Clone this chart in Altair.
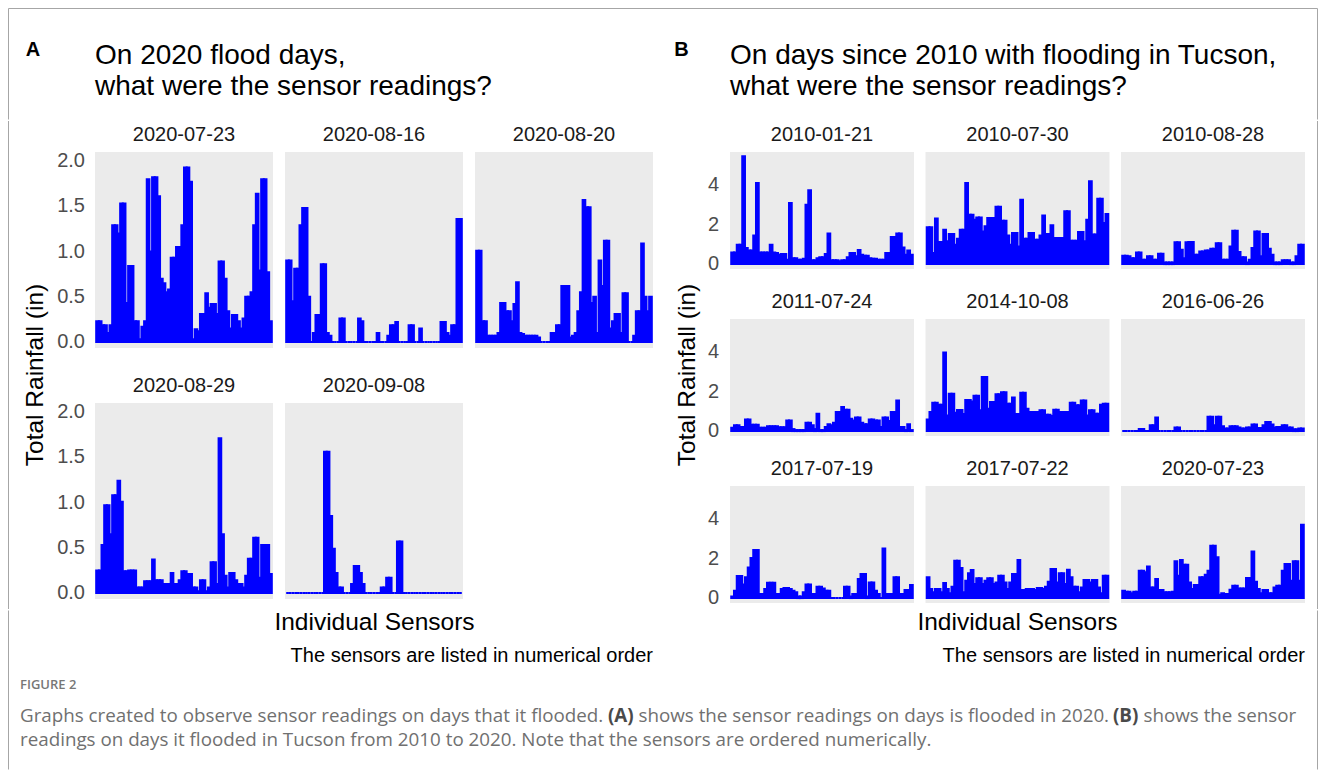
import altair as alt
import pandas as pd

FONT = "Liberation Sans"
CAPFONT = "Open Sans"
BLUE = "#0000FF"
PANEL = "#EBEBEB"
BORDER = "#A6A6A6"

# ---------------- data ----------------
SENSORS = [f"S{i:02d}" for i in range(1, 67)]

A_DATES = ["2020-07-23", "2020-08-16", "2020-08-20", "2020-08-29", "2020-09-08"]

A_0723 = [0.23, 0.23, 0.185, 0.185, 0.10, 0.185, 1.29, 1.29, 1.20, 1.53,
          1.53, 0.43, 0.84, 0.84, 0.23, 0.23, 0.03, 0.17, 0.23, 1.80,
          1.00, 1.82, 1.82, 1.61, 0.70, 0.65, 0.55, 0.58, 0.93, 0.93,
          1.05, 1.05, 1.29, 1.93, 1.93, 1.77, 0.03, 0.14, 0.12, 0.31,
          0.31, 0.54, 0.38, 0.42, 0.42, 0.31, 0.89, 0.89, 0.70, 0.34,
          0.15, 0.30, 0.30, 0.23, 0.15, 0.26, 0.50, 0.50, 0.55, 1.29,
          1.64, 0.79, 1.80, 1.80, 0.77, 0.23]
A_0816 = [0.90, 0.90, 0.45, 0.81, 0.81, 1.29, 1.48, 1.48, 0.50, 0,
          0.10, 0.30, 0.30, 0.86, 0.86, 0.10, 0.07, 0, 0, 0,
          0.26, 0.26, 0, 0, 0, 0, 0, 0.26, 0.23, 0,
          0, 0, 0, 0, 0.10, 0, 0, 0, 0.07, 0.185,
          0.185, 0.22, 0, 0, 0, 0, 0.185, 0.185, 0, 0,
          0.15, 0, 0, 0, 0, 0, 0, 0, 0.22, 0.22,
          0.10, 0.07, 0.185, 0.185, 1.36, 1.36]
A_0820 = [1.01, 1.01, 0.23, 0.23, 0.07, 0.07, 0.07, 0.07, 0.10, 0.43,
          0.43, 0.34, 0.34, 0.23, 0.42, 0.66, 0.10, 0.09, 0.07, 0.07,
          0.07, 0.07, 0.07, 0.05, 0, 0, 0, 0, 0.10, 0.10,
          0.185, 0.185, 0.62, 0.62, 0.62, 0.05, 0.07, 0.10, 0.34, 0.55,
          1.57, 1.49, 1.49, 0.43, 0.50, 0.10, 0.90, 0.62, 1.12, 1.12,
          0.15, 0.23, 0.31, 0.31, 0.10, 0.54, 0.54, 0, 0, 0.07,
          0.34, 0.34, 1.09, 0.50, 0.34, 0.50]
A_0829 = [0.25, 0.25, 0.53, 0.97, 0.97, 0.65, 1.08, 1.08, 1.24, 1.01,
          0.24, 0.24, 0.25, 0.25, 0.25, 0.06, 0.06, 0.06, 0.13, 0.13,
          0.13, 0.37, 0.14, 0.14, 0.14, 0.10, 0.10, 0.10, 0.22, 0.10,
          0.10, 0.14, 0.24, 0.24, 0.21, 0.21, 0.06, 0.06, 0.02, 0.14,
          0.14, 0.02, 0.06, 0.34, 0.34, 0.10, 1.71, 0.65, 0.19, 0.06,
          0.22, 0.22, 0.14, 0.10, 0.10, 0.06, 0.19, 0.38, 0.38, 0.61,
          0.61, 0.17, 0.53, 0.53, 0.53, 0.21]
A_0908 = [0, 0, 0, 0, 0, 0, 0, 0, 0, 0,
          0, 0, 0, 0, None, 1.56, 1.56, 0.85, 0.49, 0.22,
          0.06, 0.06, 0, 0, 0, 0.10, 0.30, 0.30, 0.22, 0.10,
          0, 0, 0, 0, 0, 0, 0.06, 0.06, 0.17, 0.17,
          0, 0, 0.57, 0.57, 0, 0, 0, 0, 0, 0,
          0, 0, 0, 0, 0, 0, 0, 0, 0, 0,
          0, 0, 0, 0, 0, 0]
A_RAIN = [A_0723, A_0816, A_0820, A_0829, A_0908]

B_DATES = ["2010-01-21", "2010-07-30", "2010-08-28",
           "2011-07-24", "2014-10-08", "2016-06-26",
           "2017-07-19", "2017-07-22", "2020-07-23"]

B_100121 = [0.59, 0.59, 0.98, 0.98, 5.45, 0.81, 0.68, 0.68, 1.45, 4.10,
            0.59, 0.59, 0.59, 0.59, 0.98, 0.59, 0.56, 0.47, 0.51, 0.51,
            0.22, 3.09, 0.30, 0.30, 0.22, 0.22, 0.27, 3.00, 3.73, 0.19,
            0.19, 0.30, 0.34, 0.34, 0.51, 1.54, 0.19, 0.19, 0.19, 0.14,
            0.19, 0.19, 0.34, 0.56, 0.56, 0.39, 0.71, 0.47, 0.42, 0.42,
            0.30, 0.27, 0.27, 0.22, 0.22, 0.22, 0.56, 0.56, 1.37, 1.37,
            1.54, 1.54, 0.84, 0.47, 0.68, 0.47]
B_100730 = [1.86, 1.86, 0.56, 2.30, 1.11, 1.11, 1.74, 1.15, 1.52, 1.52,
            0.98, 1.28, 1.74, 1.74, 4.10, 2.50, 2.50, 2.24, 2.36, 2.36,
            1.65, 1.91, 2.33, 2.33, 2.33, 2.90, 2.90, 2.19, 2.19, 1.45,
            0.98, 1.57, 1.57, 0.89, 3.26, 1.28, 1.28, 1.57, 1.57, 1.23,
            1.23, 1.45, 2.46, 1.52, 1.52, 1.96, 1.32, 1.32, 1.32, 1.32,
            2.67, 2.67, 1.18, 1.18, 1.18, 1.62, 1.62, 1.15, 2.24, 4.19,
            1.49, 1.49, 3.31, 3.31, 2.08, 2.53]
B_100828 = [0.42, 0.42, 0.39, 0.30, 0.30, 0.59, 0.59, 0.22, 0.22, 0.39,
            0.39, 0.22, 0.22, 0.52, 0.52, 0.08, 0.08, 0.08, 0.08, 1.10,
            1.10, 0.73, 0.30, 1.10, 1.11, 1.11, 0.47, 0.47, 0.64, 0.64,
            0.68, 0.68, 0.78, 0.78, 1.05, 1.05, 0.22, 0.22, 0.22, 0.89,
            1.69, 1.69, 0.61, 0.34, 0.34, 0.08, 0.22, 0.81, 1.65, 1.65,
            0.39, 1.52, 1.52, 0.78, 0.47, 0.08, 0.08, 0.08, 0.19, 0.19,
            0.19, 0.08, 0.08, 0.39, 0.98, 0.98]
B_110724 = [0.17, 0.29, 0.29, 0.20, 0.20, 0.59, 0.59, 0.32, 0.32, 0.32,
            0.17, 0.17, 0.17, 0.24, 0.24, 0.24, 0.24, 0.19, 0.19, 0.19,
            0.54, 0.54, 0.10, 0.05, 0.05, 0.05, 0.05, 0.42, 0.42, 0.29,
            0.10, 0.88, 0.05, 0.05, 0.20, 0.35, 0.29, 0.42, 0.96, 0.96,
            1.22, 1.08, 1.08, 0.62, 0.54, 0.69, 0.69, 0.42, 0.35, 0.35,
            0.59, 0.59, 0.54, 0.54, 0.20, 0.69, 0.69, 0.51, 0.96, 0.96,
            1.54, 0.20, 0.20, 0.05, 0.35, 0.05]
B_141008 = [0.59, 0.96, 1.43, 1.43, 1.33, 1.33, 3.97, 0.79, 1.89, 1.89,
            0.93, 1.06, 1.06, 0.86, 1.57, 1.57, 1.50, 1.79, 1.79, 1.05,
            2.73, 2.73, 1.13, 1.47, 1.47, 1.86, 1.86, 1.97, 1.97, 1.38,
            1.38, 1.70, 0.86, 0.86, 1.94, 1.94, 1.13, 0.96, 0.96, 0.96,
            0.96, 1.05, 1.05, 0.83, 0.83, 0.76, 1.08, 1.08, 0.96, 0.96,
            0.96, 0.96, 1.43, 1.43, 1.30, 1.30, 1.54, 1.54, 0.79, 1.05,
            1.05, 0.88, 0.88, 1.33, 1.38, 1.38]
B_160626 = [0, 0, 0, 0, 0, 0, 0.11, 0.11, 0, 0,
            0.29, 0.29, 0.68, 0, 0, 0, 0, 0, 0, 0.18,
            0.18, 0, 0, 0, 0, 0, 0, 0, 0, 0,
            0, 0.72, 0.72, 0.29, 0.72, 0.72, 0.24, 0.13, 0.13, 0.24,
            0.24, 0.24, 0.18, 0.13, 0.13, 0.18, 0.18, 0.33, 0.33, 0.16,
            0.16, 0.29, 0.46, 0.46, 0.33, 0.18, 0.21, 0.21, 0.29, 0.29,
            0.18, 0.18, 0.09, 0.09, 0.13, 0.13]
B_170719 = [0.08, 0.37, 1.11, 1.11, 0.68, 1.05, 1.55, 2.03, 2.43, 2.43,
            0.20, 0.20, 0.46, 0.78, 0.78, 0.78, 0.20, 0.20, 0.46, 0.51,
            0.51, 0.46, 0.37, 0.29, 0.08, 0.08, 0.29, 0.68, 0.68, 0.20,
            0.20, 0.57, 0.57, 0.49, 0.37, 0.37, 0, 0, 0, 0,
            0, 0.57, 0.57, 0.08, 0.20, 0.20, 0.96, 1.22, 1.22, 0.08,
            0.79, 0.79, 0.37, 0.20, 0, 2.51, 0.20, 0.20, 0.20, 1.05,
            1.05, 0.20, 0.20, 0.41, 0.41, 0.66]
B_170722 = [1.05, 0.46, 0.29, 0.46, 0.46, 0.29, 0.76, 0.46, 0.24, 0.57,
            1.89, 1.89, 1.52, 0.29, 0.88, 1.25, 1.42, 0.71, 1.00, 1.00,
            0.71, 0.88, 1.00, 1.00, 0.71, 0.79, 1.13, 1.13, 0.79, 0.46,
            0.79, 1.22, 1.22, 1.92, 0.41, 0.41, 0.46, 0.46, 0.46, 0.41,
            0.51, 0.51, 0.46, 0.57, 0.83, 1.47, 1.47, 0.79, 1.25, 1.25,
            0.71, 1.43, 1.05, 0.57, 0.57, 0.29, 0.54, 0.91, 0.91, 0.79,
            0.91, 0.91, 0.54, 0.24, 1.13, 1.13]
B_200723 = [0.37, 0.32, 0.32, 0.24, 0.32, 0.32, 1.38, 1.38, 1.30, 1.60,
            0.54, 0.54, 0.96, 0.41, 0.41, 0.29, 0.29, 0.29, 0.32, 1.86,
            1.13, 1.92, 1.69, 1.69, 0.79, 0.46, 0.66, 0.66, 1.05, 1.05,
            1.18, 1.38, 2.65, 2.65, 2.06, 0.17, 0.24, 0.20, 0.20, 0.42,
            0.62, 0.62, 0.49, 0.49, 0.49, 1.01, 1.01, 2.36, 0.83, 0.46,
            0.24, 0.41, 0.41, 0.24, 0.24, 0.54, 0.62, 0.62, 1.38, 1.72,
            1.72, 0.88, 1.86, 1.86, 0.88, 3.71]
B_RAIN = [B_100121, B_100730, B_100828, B_110724, B_141008,
          B_160626, B_170719, B_170722, B_200723]

A_TICKS = [0, 0.5, 1.0, 1.5, 2.0]
A_TICK_LABELS = ["0.0", "0.5", "1.0", "1.5", "2.0"]
B_TICKS = [0, 2, 4]
B_TICK_LABELS = ["0", "2", "4"]

ONE = pd.DataFrame({"k": [0]})

A_DOM = [-0.066, 2.10]
B_DOM = [-0.25, 5.67]


# ---------------- helpers ----------------
def facet(rain, domain, w, h):
    df = pd.DataFrame({"sensor": SENSORS, "rain": rain})
    return alt.Chart(df).mark_bar(color=BLUE, stroke=BLUE, strokeWidth=2.0).encode(
        x=alt.X("sensor:N", sort=None, axis=None,
                scale=alt.Scale(paddingInner=0, paddingOuter=0.45)),
        y=alt.Y("rain:Q", axis=None,
                scale=alt.Scale(domain=domain, nice=False, zero=False)),
        y2=alt.Y2(datum=0),
    ).properties(width=w, height=h, view=alt.ViewBackground(fill=PANEL, stroke=None))


def label(text, x, y, size, font=FONT, color="#000000", weight="normal",
          align="left", baseline="alphabetic", angle=0):
    mk = dict(text=text, fontSize=size, font=font, color=color, fontWeight=weight,
              align=align, baseline=baseline)
    if angle:
        mk["angle"] = angle
    return alt.Chart(ONE).mark_text(**mk).encode(x=alt.value(x), y=alt.value(y))


def vline(x, y1, y2):
    return alt.Chart(ONE).mark_rule(color=BORDER, strokeWidth=1).encode(
        x=alt.value(x), y=alt.value(y1), y2=alt.value(y2))


def hline(y, x1, x2):
    return alt.Chart(ONE).mark_rule(color=BORDER, strokeWidth=1).encode(
        y=alt.value(y), x=alt.value(x1), x2=alt.value(x2))


def vbar(x1, x2, y1, y2):
    return alt.Chart(ONE).mark_rect(color=BORDER).encode(
        x=alt.value(x1), x2=alt.value(x2), y=alt.value(y1), y2=alt.value(y2))


NOVIEW = alt.ViewBackground(stroke=None)


def strip(date, w, h, base):
    return label(date, w / 2, base, 20, color="#1A1A1A", align="center").properties(
        width=w, height=h, view=NOVIEW)


def tick_layer(ticks, labels, domain, top, bottom, x):
    df = pd.DataFrame({"v": ticks, "lab": labels})
    return alt.Chart(df).mark_text(align="right", baseline="middle", fontSize=20,
                                   font=FONT, color="#4D4D4D").encode(
        x=alt.value(x),
        y=alt.Y("v:Q", axis=None,
                scale=alt.Scale(domain=domain, range=[bottom, top], nice=False, zero=False)),
        text="lab:N",
    )


MH = 490  # height of the middle band (page y 120 .. 610)

# ---------------- panel A ----------------
AW, AH, AG = 178, 196, 12
fa = [facet(r, A_DOM, AW, AH) for r in A_RAIN]
sa = [strip(d, AW, 32 if i < 3 else 55, 21 if i < 3 else 44) for i, d in enumerate(A_DATES)]
panelA = alt.vconcat(
    alt.hconcat(sa[0], sa[1], sa[2], spacing=AG),
    alt.hconcat(fa[0], fa[1], fa[2], spacing=AG),
    alt.hconcat(sa[3], sa[4], spacing=AG),
    alt.hconcat(fa[3], fa[4], spacing=AG),
    spacing=0)

# ---------------- panel B ----------------
BW, BH, BG = 184, 117, 11.5
fb = [facet(r, B_DOM, BW, BH) for r in B_RAIN]
sb = [strip(d, BW, 32 if i < 3 else 50, 21 if i < 3 else 39) for i, d in enumerate(B_DATES)]
panelB = alt.vconcat(
    alt.hconcat(sb[0], sb[1], sb[2], spacing=BG),
    alt.hconcat(fb[0], fb[1], fb[2], spacing=BG),
    alt.hconcat(sb[3], sb[4], sb[5], spacing=BG),
    alt.hconcat(fb[3], fb[4], fb[5], spacing=BG),
    alt.hconcat(sb[6], sb[7], sb[8], spacing=BG),
    alt.hconcat(fb[6], fb[7], fb[8], spacing=BG),
    spacing=0)

# ---------------- side columns ----------------
# left column: frame edge + rotated axis title + tick labels of panel A
left_col = alt.layer(
    vbar(0, 1, 1, MH - 1),
    vline(0.5, 1, MH - 1),
    label("Total Rainfall (in)", 28, 255, 24.5, align="center", baseline="middle", angle=270),
    tick_layer(A_TICKS, A_TICK_LABELS, A_DOM, 32, 32 + AH, 77),
    tick_layer(A_TICKS, A_TICK_LABELS, A_DOM, 283, 283 + AH, 77),
).resolve_scale(y="independent").properties(width=87, height=MH, view=NOVIEW)

mid_col = alt.layer(
    label("Total Rainfall (in)", 35, 255, 24.5, align="center", baseline="middle", angle=270),
    tick_layer(B_TICKS, B_TICK_LABELS, B_DOM, 32, 32 + BH, 66),
    tick_layer(B_TICKS, B_TICK_LABELS, B_DOM, 199, 199 + BH, 66),
    tick_layer(B_TICKS, B_TICK_LABELS, B_DOM, 366, 366 + BH, 66),
).resolve_scale(y="independent").properties(width=77, height=MH, view=NOVIEW)

right_col = alt.layer(
    vbar(12, 13, 1, MH - 1),
    vline(12.5, 1, MH - 1),
).properties(width=13, height=MH, view=NOVIEW)

middle = alt.hconcat(left_col, panelA, mid_col, panelB, right_col, spacing=0)

# ---------------- header / footer ----------------
W = 1310
HH = 112
header = alt.layer(
    hline(0.5, 0.5, W - 0.5), vline(0.5, 0.5, HH - 0.5), vline(W - 0.5, 0.5, HH - 0.5),
    label("A", 25, 48, 20, weight="bold", align="center"),
    label("On 2020 flood days,", 87, 55.5, 28),
    label("what were the sensor readings?", 87, 87, 28),
    label("B", 673.5, 48, 20, weight="bold", align="center"),
    label("On days since 2010 with flooding in Tucson,", 722, 55.5, 28),
    label("what were the sensor readings?", 722, 87, 28),
).properties(width=W, height=HH, view=NOVIEW)

CAPC = "#707070"
CAPB = "#4A4A4A"
CS = 18.8
FH = 160
footer = alt.layer(
    vline(0.5, 0.5, FH - 0.5), vline(W - 0.5, 0.5, FH - 0.5),
    label("Individual Sensors", 366.5, 20, 24.5, align="center"),
    label("Individual Sensors", 1009.5, 20, 24.5, align="center"),
    label("The sensors are listed in numerical order", 645, 51.5, 20, align="right"),
    label("The sensors are listed in numerical order", 1297, 51.5, 20, align="right"),
    label("FIGURE 2", 12, 78.5, 13, font=CAPFONT, color="#777777", weight=600),
    label("Graphs created to observe sensor readings on days that it flooded.", 12, 112, CS,
          font=CAPFONT, color=CAPC),
    label("(A)", 600, 112, CS, font=CAPFONT, color=CAPB, weight="bold"),
    label("shows the sensor readings on days is flooded in 2020.", 630.5, 112, CS,
          font=CAPFONT, color=CAPC),
    label("(B)", 1105, 112, CS, font=CAPFONT, color=CAPB, weight="bold"),
    label("shows the sensor", 1135.5, 112, CS, font=CAPFONT, color=CAPC),
    label("readings on days it flooded in Tucson from 2010 to 2020. Note that the sensors "
          "are ordered numerically.", 12, 136, CS, font=CAPFONT, color=CAPC),
).properties(width=W, height=FH, view=NOVIEW)

chart = alt.vconcat(header, middle, footer, spacing=0).properties(
    padding=0, background="#FFFFFF"
).configure(font=FONT, view=alt.ViewConfig(stroke=None))

chart.save("out.html", embed_options={"renderer": "svg", "actions": False})
